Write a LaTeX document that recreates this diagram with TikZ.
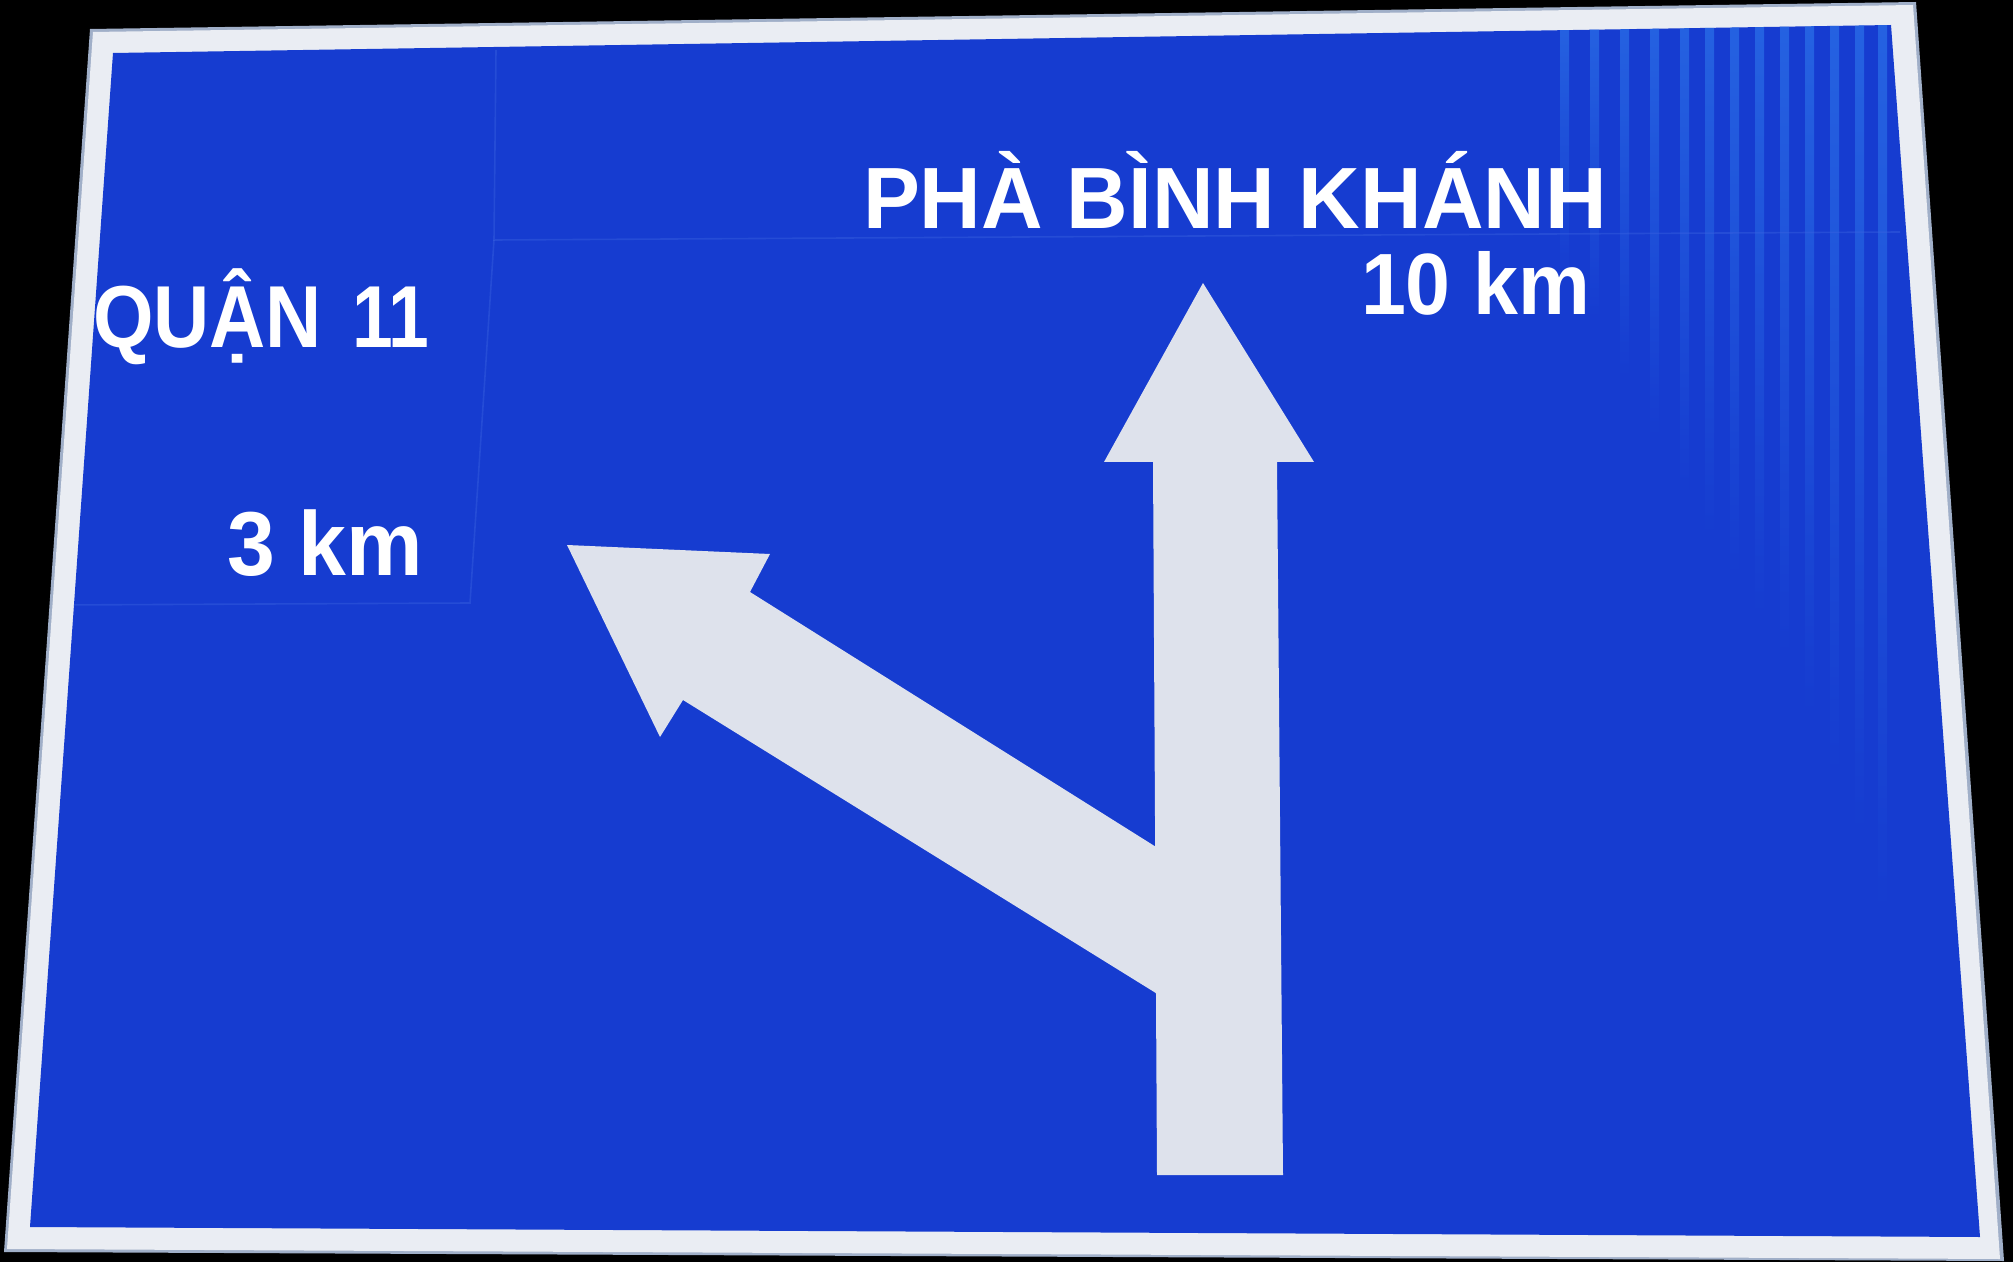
\documentclass[tikz,border=0pt]{standalone}
\usepackage{fontspec}
\setmainfont{Liberation Sans}
\usepackage{graphicx}
\definecolor{signblue}{RGB}{22,60,208}
\definecolor{stripeblue}{RGB}{50,130,240}
\definecolor{seamblue}{RGB}{60,100,225}
\definecolor{borderwhite}{RGB}{234,237,243}
\definecolor{rimgrey}{RGB}{160,175,200}
\definecolor{arrowwhite}{RGB}{222,226,236}
\tikzset{
  signlabel/.style={anchor=base west, inner sep=0pt, outer sep=0pt, text=white, font=\bfseries},
  arrowshape/.style={fill=arrowwhite, draw=none},
  stripe/.style={top color=stripeblue, bottom color=signblue, draw=none, opacity=0.55},
  seam/.style={draw=seamblue, line width=0.8pt, opacity=0.4}
}
\newcommand\fitwidth[2]{\resizebox{#1}{\height}{#2}}
\begin{document}
\begin{tikzpicture}[x=0.5pt,y=-0.5pt]
\useasboundingbox (0,0) rectangle (2013,1262);
\fill[black] (0,0) rectangle (2013,1262);
% sign plate
\fill[rimgrey] (90,29) -- (1916,2) -- (2004,1261) -- (4,1252) -- cycle;
\fill[borderwhite] (93,32) -- (1913,5) -- (2000,1259) -- (7,1249) -- cycle;
\fill[signblue] (113,53) -- (1891,25) -- (1980,1237) -- (30,1227) -- cycle;
% retroreflective shimmer stripes and faint panel seams
\begin{scope}
\clip (113,53) -- (1891,25) -- (1980,1237) -- (30,1227) -- cycle;
\foreach \sx/\sl in {1560/260,1590/300,1620/360,1650/420,1680/480,1705/520,1730/560,1755/600,1780/640,1805/700,1830/760,1855/820,1878/900}{
  \shade[stripe] (\sx,20) rectangle ++(9,\sl);
}
\coordinate (s1) at (496,50);
\coordinate (s2) at (494,240);
\coordinate (s3) at (1900,232);
\coordinate (s4) at (470,603);
\coordinate (s5) at (60,605);
\draw[seam] (s1) -- (s2) -- (s3);
\draw[seam] (s2) -- (s4) -- (s5);
\end{scope}
% left arrow
\path[arrowshape] (567,545) -- (770,554) -- (750,592) -- (1180,862) -- (1180,1008) -- (683,700) -- (660,737) -- cycle;
% straight-ahead arrow
\path[arrowshape] (1157,1175) -- (1283,1175) -- (1277,462) -- (1314,462) -- (1203,283) -- (1104,462) -- (1153,462) -- cycle;
% texts
\node[signlabel, font=\bfseries\fontsize{43.5}{48}\selectfont] (pha) at (863,229) {\fitwidth{372pt}{PHÀ BÌNH KHÁNH}};
\node[signlabel, font=\bfseries\fontsize{43.5}{48}\selectfont] (dist1) at (1361,315) {\fitwidth{114.5pt}{10 km}};
\node[signlabel, font=\bfseries\fontsize{44}{48}\selectfont] (quan) at (93,348) {\fitwidth{114.5pt}{QUẬN}};
\node[signlabel, font=\bfseries\fontsize{44}{48}\selectfont] (eleven) at (352,348) {\fitwidth{38.7pt}{11}};
\node[signlabel, font=\bfseries\fontsize{45.4}{48}\selectfont] (dist2) at (227,575) {\fitwidth{98pt}{3 km}};
\end{tikzpicture}
\end{document}
